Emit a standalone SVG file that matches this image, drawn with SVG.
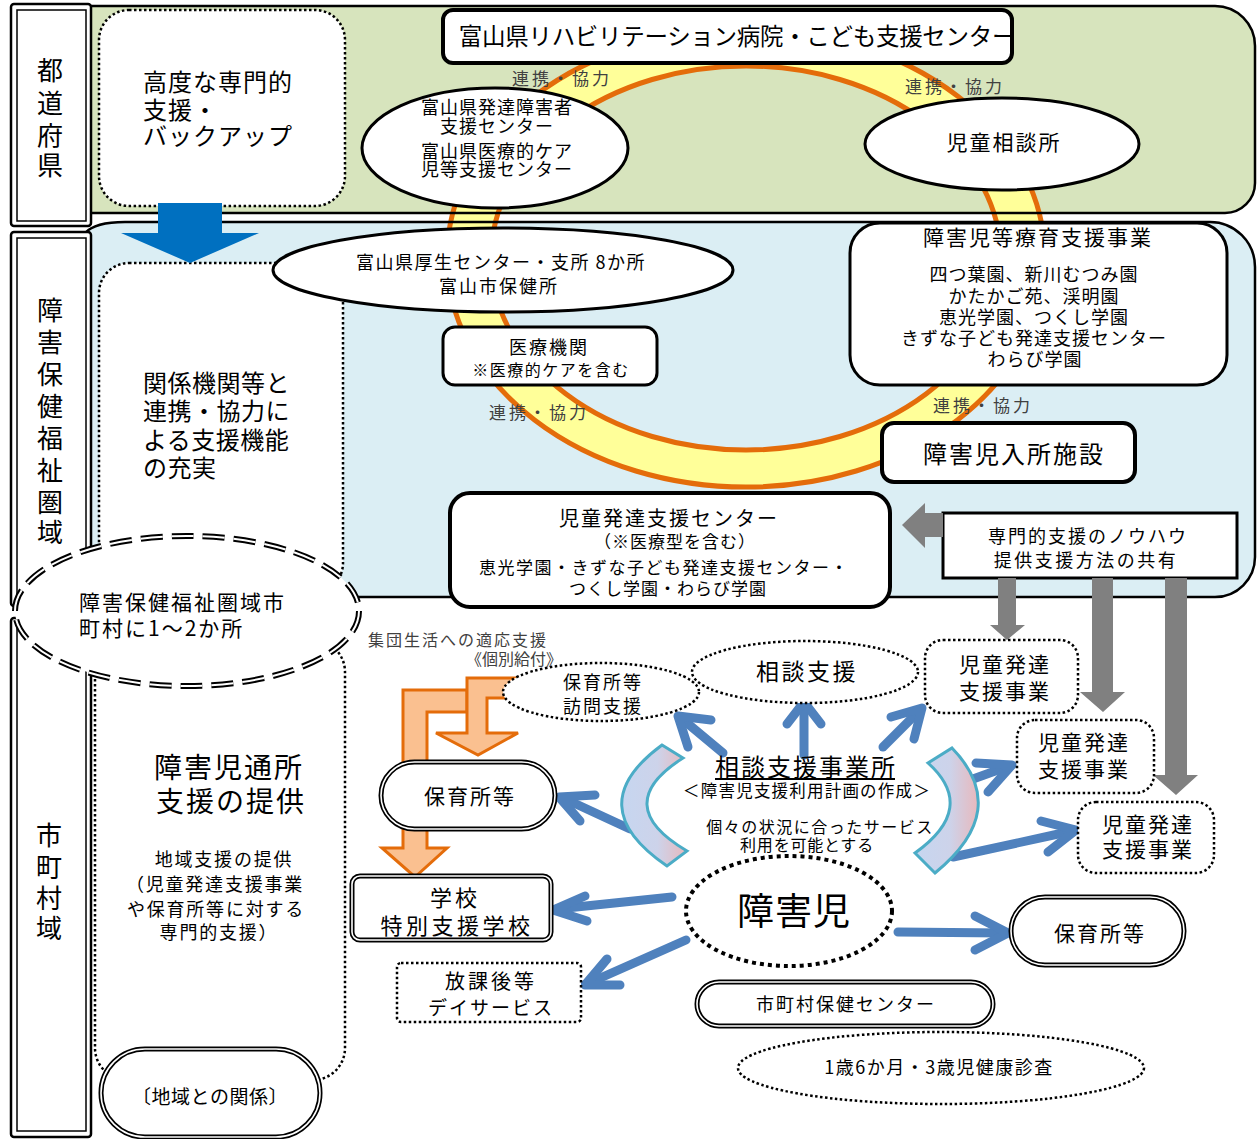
<svg xmlns="http://www.w3.org/2000/svg" width="1258" height="1139" viewBox="0 0 1258 1139">
<defs>
<linearGradient id="cg" x1="0" y1="0" x2="1" y2="0"><stop offset="0" stop-color="#c6d6f0"/><stop offset="0.55" stop-color="#cdd3ea"/><stop offset="1" stop-color="#e8b8bc"/></linearGradient>
<style>
text{font-family:"Noto Sans CJK JP","Noto Sans",sans-serif;fill:#000;dominant-baseline:central;transform:translate(0px,-2px);}
.m{text-anchor:middle}
.dot{fill:#fff;stroke:#000;stroke-width:2.5;stroke-dasharray:2.5 2.5}
.solid{fill:#fff;stroke:#000;stroke-width:3}
.thick{fill:#fff;stroke:#000;stroke-width:4}
.dblo{fill:#fff;stroke:#000;stroke-width:5}
.dbli{fill:none;stroke:#fff;stroke-width:1.6}
.ba{fill:none;stroke:#4f81bd;stroke-width:9;stroke-linecap:round;stroke-linejoin:round}
.ga{fill:#808080}
.oa{fill:#fac090;stroke:#e46c0a;stroke-width:3}
.lbl{fill:#404040}
.cr{fill:url(#cg);stroke:#4bacc6;stroke-width:3}
</style>
</defs>
<rect x="0" y="0" width="1258" height="1139" fill="#fff"/>

<g id="panels">
<path d="M91,6 L1215,6 A40,40 0 0 1 1255,46 L1255,183 A30,30 0 0 1 1225,213 L91,213 Z" fill="#d7e4bd"/>
<path d="M85,233 Q95,222 125,222 L1210,222 A45,45 0 0 1 1255,267 L1255,557 A40,40 0 0 1 1215,597 L91,597 Z" fill="#dbeef4"/>
</g>

<g id="ring">
<path d="M447,258 a299,229 0 1,0 598,0 a299,229 0 1,0 -598,0 Z M491,258 a255,192 0 1,0 510,0 a255,192 0 1,0 -510,0 Z" fill="#ffff99" fill-rule="evenodd" stroke="#e46c0a" stroke-width="5"/>
</g>

<g id="panel-outlines" fill="none" stroke="#000" stroke-width="2.5">
<path d="M91,6 L1215,6 A40,40 0 0 1 1255,46 L1255,183 A30,30 0 0 1 1225,213 L91,213"/>
<path d="M85,233 Q95,222 125,222 L1210,222 A45,45 0 0 1 1255,267 L1255,557 A40,40 0 0 1 1215,597 L91,597"/>
</g>

<g id="col-pref">
<rect x="11" y="4" width="80" height="222" rx="3" fill="#fff" stroke="#000" stroke-width="2.5"/>
<rect x="17" y="10" width="69" height="211" fill="none" stroke="#000" stroke-width="1.5"/>
<text class="m" font-size="26"><tspan x="50" y="70">都</tspan><tspan x="50" y="103">道</tspan><tspan x="50" y="135">府</tspan><tspan x="50" y="165">県</tspan></text>
</g>
<g id="col-area">
<rect x="11" y="232" width="80" height="374" rx="3" fill="#fff" stroke="#000" stroke-width="2.5"/>
<rect x="17" y="238" width="69" height="362" fill="none" stroke="#000" stroke-width="1.5"/>
<text class="m" font-size="26"><tspan x="50" y="310">障</tspan><tspan x="50" y="342">害</tspan><tspan x="50" y="374">保</tspan><tspan x="50" y="406">健</tspan><tspan x="50" y="438">福</tspan><tspan x="50" y="470">祉</tspan><tspan x="50" y="502">圏</tspan><tspan x="50" y="532">域</tspan></text>
</g>
<g id="col-city">
<rect x="11" y="618" width="80" height="519" rx="3" fill="#fff" stroke="#000" stroke-width="2.5"/>
<rect x="17" y="624" width="69" height="507" fill="none" stroke="#000" stroke-width="1.5"/>
<text class="m" font-size="26"><tspan x="49" y="835">市</tspan><tspan x="49" y="867">町</tspan><tspan x="49" y="898">村</tspan><tspan x="49" y="928">域</tspan></text>
</g>

<g id="backup">
<rect class="dot" x="99" y="10" width="246" height="196" rx="30"/>
<text font-size="24" letter-spacing="1"><tspan x="143" y="82">高度な専門的</tspan><tspan x="143" y="110">支援・</tspan><tspan x="143" y="136">バックアップ</tspan></text>
</g>

<g id="cooperation">
<rect class="dot" x="99" y="263" width="244" height="330" rx="30"/>
<text font-size="24" letter-spacing="0.5"><tspan x="143" y="383">関係機関等と</tspan><tspan x="143" y="411">連携・協力に</tspan><tspan x="143" y="440">よる支援機能</tspan><tspan x="143" y="468">の充実</tspan></text>
</g>

<g id="tsusho">
<rect class="dot" x="95" y="640" width="250" height="440" rx="32"/>
<text class="m" font-size="28" letter-spacing="2"><tspan x="229" y="768">障害児通所</tspan><tspan x="231" y="802">支援の提供</tspan></text>
<text class="m" font-size="18" letter-spacing="1.8"><tspan x="224" y="860">地域支援の提供</tspan><tspan x="215" y="885">（児童発達支援事業</tspan><tspan x="216" y="910">や保育所等に対する</tspan><tspan x="219" y="933">専門的支援）</tspan></text>
</g>

<g id="blue-down-arrow">
<path d="M158,203 L222,203 L222,233 L259,233 L190,263 L121,233 L158,233 Z" fill="#0070c0"/>
</g>

<g id="area-count">
<ellipse cx="187" cy="611" rx="172" ry="75" fill="#fff" stroke="#000" stroke-width="6" stroke-dasharray="22 9"/>
<ellipse cx="187" cy="611" rx="172" ry="75" fill="none" stroke="#fff" stroke-width="2" stroke-dasharray="22 9"/>
<text font-size="21" letter-spacing="2"><tspan x="79" y="603">障害保健福祉圏域市</tspan><tspan x="79" y="629">町村に1～2か所</tspan></text>
</g>

<g id="community">
<rect class="dblo" x="101" y="1049" width="219" height="88" rx="44"/>
<rect class="dbli" x="101" y="1049" width="219" height="88" rx="44"/>
<text class="m" font-size="19" letter-spacing="0.5" x="210" y="1097">〔地域との関係〕</text>
</g>

<g id="ring-labels" font-size="17">
<text class="m lbl" letter-spacing="3" x="562" y="79">連携・協力</text>
<text class="m lbl" letter-spacing="3" x="955" y="87">連携・協力</text>
<text class="m lbl" letter-spacing="3" x="539" y="413">連携・協力</text>
<text class="m lbl" letter-spacing="3" x="983" y="406">連携・協力</text>
</g>

<g id="rehab">
<rect class="thick" x="443" y="10" width="569" height="53" rx="10"/>
<text class="m" font-size="23.5" letter-spacing="-0.3" x="737" y="37">富山県リハビリテーション病院・こども支援センター</text>
</g>

<g id="hattatsu-center">
<ellipse class="solid" cx="495" cy="148" rx="133" ry="60"/>
<text class="m" font-size="18" letter-spacing="1"><tspan x="497" y="108">富山県発達障害者</tspan><tspan x="497" y="127">支援センター</tspan><tspan x="497" y="152">富山県医療的ケア</tspan><tspan x="497" y="170">児等支援センター</tspan></text>
</g>

<g id="jido-sodan">
<ellipse class="solid" cx="1002" cy="144" rx="137" ry="46"/>
<text class="m" font-size="21" letter-spacing="2" x="1004" y="143">児童相談所</text>
</g>

<g id="kosei">
<ellipse class="solid" cx="503" cy="270" rx="230" ry="42"/>
<text class="m" font-size="18" letter-spacing="1.5" x="501" y="263">富山県厚生センター・支所 8か所</text>
<text class="m" font-size="18" letter-spacing="2" x="499" y="287">富山市保健所</text>
</g>

<g id="iryo">
<rect class="solid" x="443" y="327" width="214" height="58" rx="12"/>
<text class="m" font-size="18" letter-spacing="2" x="549" y="348">医療機関</text>
<text class="m" font-size="16" letter-spacing="1.5" x="551" y="371">※医療的ケアを含む</text>
</g>

<g id="ryoiku">
<rect class="solid" x="850" y="223" width="377" height="162" rx="30"/>
<text class="m" font-size="21" letter-spacing="2" x="1038" y="238">障害児等療育支援事業</text>
<text class="m" font-size="18" letter-spacing="1"><tspan x="1034" y="275">四つ葉園、新川むつみ園</tspan><tspan x="1034" y="297">かたかご苑、渓明園</tspan><tspan x="1034" y="318">恵光学園、つくし学園</tspan><tspan x="1034" y="339">きずな子ども発達支援センター</tspan><tspan x="1035" y="360">わらび学園</tspan></text>
</g>

<g id="nyusho">
<rect class="thick" x="882" y="423" width="253" height="59" rx="12"/>
<text class="m" font-size="24" letter-spacing="2" x="1014" y="454">障害児入所施設</text>
</g>

<g id="jihatsu-center">
<rect class="thick" x="450" y="493" width="440" height="114" rx="20"/>
<text class="m" font-size="20" letter-spacing="2" x="669" y="519">児童発達支援センター</text>
<text class="m" font-size="17" letter-spacing="1" x="675" y="542">（※医療型を含む）</text>
<text class="m" font-size="17" letter-spacing="1.5" x="664" y="568">恵光学園・きずな子ども発達支援センター・</text>
<text class="m" font-size="17" letter-spacing="1" x="668" y="589">つくし学園・わらび学園</text>
</g>

<g id="knowhow">
<rect x="943" y="513" width="294" height="65" fill="#fff" stroke="#000" stroke-width="3"/>
<text class="m" font-size="18" letter-spacing="2" x="1088" y="537">専門的支援のノウハウ</text>
<text class="m" font-size="18" letter-spacing="2.5" x="1086" y="561">提供支援方法の共有</text>
</g>

<g id="connectors">
<g id="gray-arrows" class="ga">
<path d="M943,513 L925,513 L925,503 L902,525 L925,548 L925,537 L943,537 Z"/>
<path d="M998,578 L1016,578 L1016,625 L1025,625 L1007,640 L990,625 L998,625 Z"/>
<path d="M1092,578 L1113,578 L1113,692 L1125,692 L1103,712 L1080,692 L1092,692 Z"/>
<path d="M1165,578 L1187,578 L1187,775 L1198,775 L1176,795 L1153,775 L1165,775 Z"/>
</g>
<g id="orange-arrows">
<path class="oa" d="M467,690 L403,690 L403,848 L382,848 L415,877 L447,848 L427,848 L427,712 L467,712 Z"/>
<path class="oa" d="M530,678 L467,678 L467,733 L436,733 L478,755 L518,733 L487,733 L487,698 L530,698 Z"/>
</g>
<g id="blue-arrows">
<path class="ba" d="M723,753 L681,718"/><path class="ba" d="M711,720 L678,716 L688,747"/>
<path class="ba" d="M804,755 L804,704"/><path class="ba" d="M787,724 L804,702 L821,724"/>
<path class="ba" d="M883,747 L919,711"/><path class="ba" d="M891,717 L922,708 L914,739"/>
<path class="ba" d="M973,779 L1009,766"/><path class="ba" d="M976,763 L1012,765 L988,792"/>
<path class="ba" d="M953,857 L1072,831"/><path class="ba" d="M1041,821 L1076,830 L1048,852"/>
<path class="ba" d="M630,829 L563,798"/><path class="ba" d="M595,795 L559,797 L580,821"/>
<path class="ba" d="M672,897 L557,909"/><path class="ba" d="M585,896 L553,910 L587,921"/>
<path class="ba" d="M686,940 L589,983"/><path class="ba" d="M607,959 L585,985 L620,985"/>
<path class="ba" d="M898,932 L1004,933"/><path class="ba" d="M975,916 L1008,933 L975,950"/>
</g>
</g>

<g id="crescents">
<path class="cr" d="M662,745 L683,758 Q609,805 687,851 L667,866 Q579,806 662,745 Z"/>
<path class="cr" d="M952,748 Q1012,810 935,873 L915,853 Q978,808 928,763 Z"/>
</g>

<g id="group-life">
<text class="lbl" font-size="16" letter-spacing="2" x="368" y="641">集団生活への適応支援</text>
<text class="lbl" font-size="16" x="466" y="660">《個別給付》</text>
</g>

<g id="homon">
<ellipse class="dot" cx="601" cy="692" rx="98" ry="29"/>
<text class="m" font-size="18" letter-spacing="2"><tspan x="603" y="683">保育所等</tspan><tspan x="603" y="707">訪問支援</tspan></text>
</g>

<g id="sodan">
<ellipse class="dot" cx="805" cy="672" rx="113" ry="31"/>
<text class="m" font-size="23" letter-spacing="2.5" x="807" y="672">相談支援</text>
</g>

<g id="jihatsu1">
<rect class="dot" x="925" y="640" width="153" height="73" rx="18"/>
<text class="m" font-size="21" letter-spacing="2"><tspan x="1005" y="665">児童発達</tspan><tspan x="1005" y="692">支援事業</tspan></text>
</g>
<g id="jihatsu2">
<rect class="dot" x="1017" y="720" width="137" height="73" rx="18"/>
<text class="m" font-size="21" letter-spacing="2"><tspan x="1084" y="743">児童発達</tspan><tspan x="1084" y="770">支援事業</tspan></text>
</g>
<g id="jihatsu3">
<rect class="dot" x="1078" y="802" width="136" height="71" rx="18"/>
<text class="m" font-size="21" letter-spacing="2"><tspan x="1148" y="825">児童発達</tspan><tspan x="1148" y="850">支援事業</tspan></text>
</g>

<g id="hoiku-left">
<rect class="dblo" x="381" y="762" width="174" height="67" rx="33.5"/>
<rect class="dbli" x="381" y="762" width="174" height="67" rx="33.5"/>
<text class="m" font-size="21" letter-spacing="2" x="470" y="797">保育所等</text>
</g>

<g id="school">
<rect class="dblo" x="352" y="876" width="199" height="64" rx="8"/>
<rect class="dbli" x="352" y="876" width="199" height="64" rx="8"/>
<text class="m" font-size="22" letter-spacing="3" x="455" y="898">学校</text>
<text class="m" font-size="22" letter-spacing="3.5" x="457" y="926">特別支援学校</text>
</g>

<g id="houkago">
<rect class="dot" x="397" y="963" width="184" height="59" rx="4"/>
<text class="m" font-size="20" letter-spacing="3" x="491" y="982">放課後等</text>
<text class="m" font-size="19" letter-spacing="2" x="491" y="1008">デイサービス</text>
</g>

<g id="sodan-office">
<text class="m" font-size="24" letter-spacing="2" x="806" y="767">相談支援事業所</text>
<line x1="715" y1="779" x2="895" y2="779" stroke="#000" stroke-width="2"/>
<text class="m" font-size="16.5" letter-spacing="1.2" x="807" y="792">＜障害児支援利用計画の作成＞</text>
<text class="m" font-size="16" letter-spacing="1.5" x="820" y="828">個々の状況に合ったサービス</text>
<text class="m" font-size="16" letter-spacing="0.8" x="807" y="846">利用を可能とする</text>
</g>

<g id="child">
<ellipse cx="789" cy="911" rx="103" ry="55" fill="#fff" stroke="#000" stroke-width="4" stroke-dasharray="4 4"/>
<text class="m" font-size="37" letter-spacing="1" x="794" y="911">障害児</text>
</g>

<g id="hoiku-right">
<rect class="dblo" x="1011" y="897" width="173" height="68" rx="34"/>
<rect class="dbli" x="1011" y="897" width="173" height="68" rx="34"/>
<text class="m" font-size="21" letter-spacing="2" x="1100" y="934">保育所等</text>
</g>

<g id="hoken-center">
<rect class="dblo" x="697" y="982" width="296" height="44" rx="22"/>
<rect class="dbli" x="697" y="982" width="296" height="44" rx="22"/>
<text class="m" font-size="18" letter-spacing="2" x="846" y="1005">市町村保健センター</text>
</g>

<g id="kenshin">
<ellipse class="dot" cx="941" cy="1068" rx="203" ry="36"/>
<text class="m" font-size="18" letter-spacing="1.5" x="939" y="1068">1歳6か月・3歳児健康診査</text>
</g>
</svg>
